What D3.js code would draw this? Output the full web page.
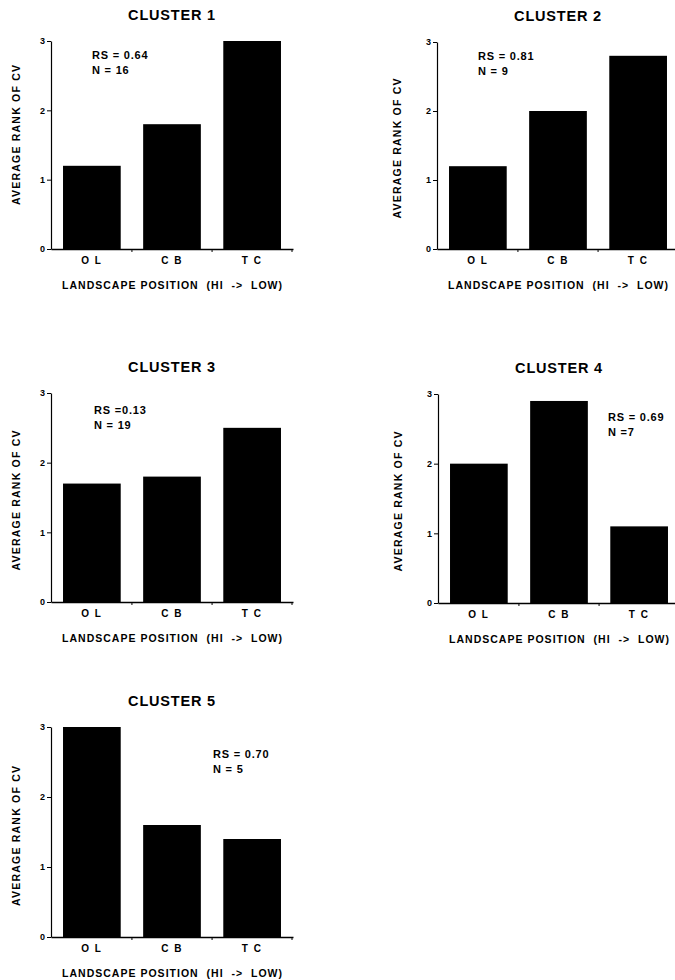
<!DOCTYPE html>
<html>
<head>
<meta charset="utf-8">
<script src="https://cdn.jsdelivr.net/npm/d3@7"></script>
<style>
  body { margin: 0; background: #fff; }
  text { font-family: "Liberation Sans", Arial, Helvetica, sans-serif; font-weight: bold; fill: #000; }
</style>
</head>
<body>
<svg id="chart" width="675" height="980"></svg>
<script>
// data
var categories = ["O L", "C B", "T C"];
var cluster_names = ["CLUSTER 1", "CLUSTER 2", "CLUSTER 3", "CLUSTER 4", "CLUSTER 5"];
var cluster1 = [1.2, 1.8, 3.0];
var cluster2 = [1.2, 2.0, 2.8];
var cluster3 = [1.7, 1.8, 2.5];
var cluster4 = [2.0, 2.9, 1.1];
var cluster5 = [3.0, 1.6, 1.4];
var rs_labels = ["RS = 0.64", "RS = 0.81", "RS =0.13", "RS = 0.69", "RS = 0.70"];
var n_labels = ["N = 16", "N = 9", "N = 19", "N =7", "N = 5"];
var y_ticks = [0, 1, 2, 3];
var y_title = "AVERAGE RANK OF CV";
var x_title = "LANDSCAPE POSITION  (HI  ->  LOW)";

var series = [cluster1, cluster2, cluster3, cluster4, cluster5];

// panel placement: axis origin x, top and bottom of y axis, where the RS/N note sits
var layout = [
	{x0: 51,  top: 41,  bottom: 249, note_dx: 41,  note_dy: 18, ylab_dy: -10},
	{x0: 437, top: 42,  bottom: 249, note_dx: 41,  note_dy: 18, ylab_dy: 3},
	{x0: 51,  top: 393, bottom: 602, note_dx: 43,  note_dy: 21, ylab_dy: 3},
	{x0: 438, top: 394, bottom: 603, note_dx: 170, note_dy: 27, ylab_dy: 3},
	{x0: 51,  top: 727, bottom: 937, note_dx: 162, note_dy: 31, ylab_dy: 4}
];
var panel_w = 242;

var svg = d3.select("#chart");

series.forEach(function(vals, i) {
	var L = layout[i];
	var g = svg.append("g").attr("class", "panel panel_" + i);

	var x = d3.scaleBand()
	  .domain(categories)
	  .range([L.x0, L.x0 + panel_w])
	  .paddingInner(0.28)
	  .paddingOuter(0.15);
	var y = d3.scaleLinear()
	  .domain([0, 3])
	  .range([L.bottom, L.top]);

	// bars
	g.selectAll("rect.bar")
	  .data(vals)
	  .enter().append("rect")
	  .attr("class", "bar")
	  .attr("x", (d, j) => x(categories[j]))
	  .attr("width", x.bandwidth())
	  .attr("y", d => y(d))
	  .attr("height", d => y(0) - y(d))
	  .style("fill", "#000");

	// y axis
	var ya = g.append("g")
	  .attr("transform", "translate(" + L.x0 + ",0)")
	  .call(d3.axisLeft(y).tickValues(y_ticks).tickFormat(d3.format("d")).tickSize(4).tickSizeOuter(0).tickPadding(2));
	ya.selectAll("text").style("font-size", "9px");
	ya.select(".domain").attr("stroke-width", 1.2);

	// x axis
	var xa = g.append("g")
	  .attr("transform", "translate(0," + L.bottom + ")")
	  .call(d3.axisBottom(x).tickSize(0).tickSizeOuter(0).tickPadding(8));
	xa.select(".domain").attr("stroke-width", 1.4);
	xa.selectAll("text").style("font-size", "10px").style("letter-spacing", "1.5px");

	// little ticks between the bars and at the end of the axis
	var gap = (x.step() - x.bandwidth()) / 2;
	var edges = categories.slice(1).map(c => x(c) - gap).concat([L.x0 + panel_w - 1]);
	g.selectAll("line.minor")
	  .data(edges)
	  .enter().append("line")
	  .attr("class", "minor")
	  .attr("x1", d => d).attr("x2", d => d)
	  .attr("y1", L.bottom).attr("y2", L.bottom + 3)
	  .attr("stroke", "#000");

	// titles
	g.append("text")
	  .attr("x", L.x0 + panel_w / 2)
	  .attr("y", L.top - 21)
	  .attr("text-anchor", "middle")
	  .style("font-size", "14.5px")
	  .style("letter-spacing", "0.8px")
	  .text(cluster_names[i]);

	g.append("text")
	  .attr("x", L.x0 + panel_w / 2)
	  .attr("y", L.bottom + 40)
	  .attr("text-anchor", "middle")
	  .attr("textLength", 220)
	  .attr("lengthAdjust", "spacing")
	  .style("font-size", "10.5px")
	  .style("white-space", "pre")
	  .text(x_title);

	var ymid = (L.top + L.bottom) / 2 + L.ylab_dy;
	var ylx = L.x0 - (i % 2 == 1 ? 40 : 35);
	g.append("text")
	  .attr("transform", "translate(" + ylx + "," + ymid + ") rotate(-90)")
	  .attr("text-anchor", "middle")
	  .attr("dy", "0.35em")
	  .attr("textLength", 140)
	  .attr("lengthAdjust", "spacing")
	  .style("font-size", "10.5px")
	  .text(y_title);

	// RS / N note
	var note = g.append("text")
	  .attr("x", L.x0 + L.note_dx)
	  .attr("y", L.top + L.note_dy)
	  .style("font-size", "11px")
	  .style("letter-spacing", "0.8px")
	  .style("white-space", "pre");
	note.append("tspan").attr("x", L.x0 + L.note_dx).text(rs_labels[i]);
	note.append("tspan").attr("x", L.x0 + L.note_dx).attr("dy", 15).text(n_labels[i]);
});
</script>
</body>
</html>
